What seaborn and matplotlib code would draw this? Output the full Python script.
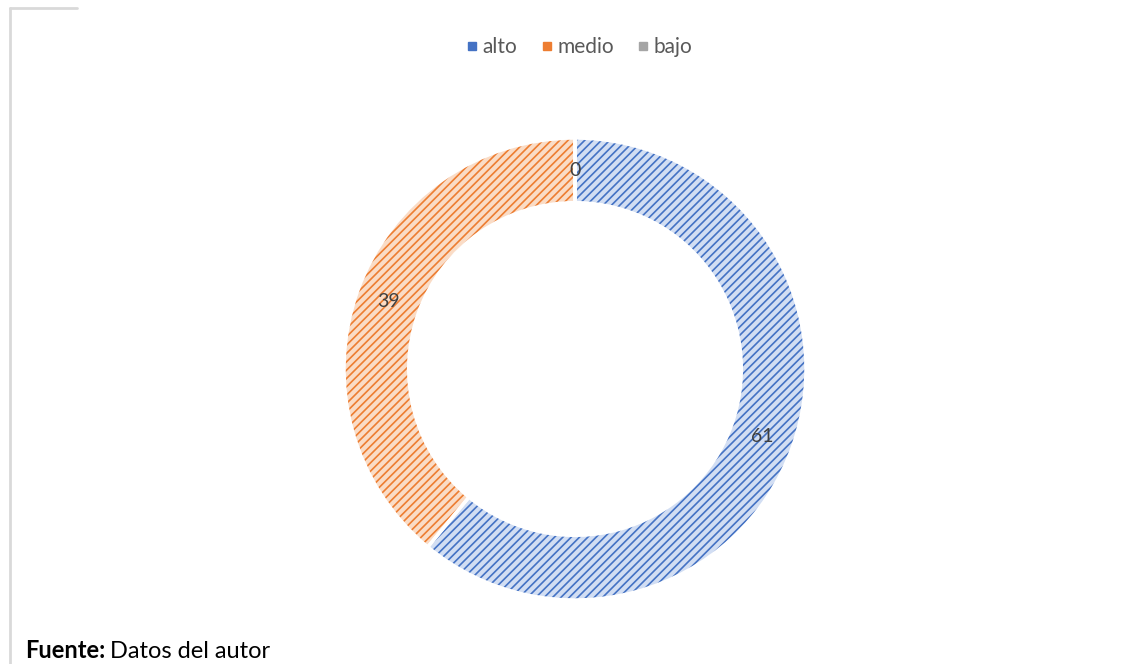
import matplotlib.pyplot as plt
import matplotlib.lines as mlines
import seaborn as sns

categorias = ['alto', 'medio', 'bajo']
valores = [61, 39, 0]
colores = ['#4472C4', '#ED7D31', '#A5A5A5']
rellenos = ['#D2DEF3', '#FADCC6', '#E2E2E2']

sns.set_theme(style="white")
plt.rcParams['font.family'] = ['Lato', 'DejaVu Sans']
plt.rcParams['hatch.linewidth'] = 1.2

fig = plt.figure(figsize=(11.31, 6.64), dpi=100)
W, H = 1131, 664
cx, cy, R = 575, 369, 231
ax = fig.add_axes([(cx - 250) / W, (H - cy - 250) / H, 500 / W, 500 / H])

total = sum(valores)
wedges, textos, autotextos = ax.pie(
    valores, colors=rellenos, startangle=90, counterclock=False,
    wedgeprops=dict(width=0.28, linewidth=0),
    autopct=lambda p: f"{p * total / 100:.0f}", pctdistance=0.86,
    textprops=dict(color='#404040', fontsize=14))
for w, c in zip(wedges, colores):
    w.set_hatch('////')
    w.set_edgecolor(c)
    w.set_linewidth(0)

# separadores blancos entre segmentos
ax.pie(valores, colors=['none'] * 3, startangle=90, counterclock=False,
       wedgeprops=dict(width=0.28, linewidth=2.5, edgecolor='white', fill=False))
ax.set_xlim(-250 / R, 250 / R)
ax.set_ylim(-250 / R, 250 / R)
ax.set_aspect('equal')
ax.axis('off')

# leyenda
handles = [mlines.Line2D([], [], marker='s', linestyle='none', markersize=6,
                         color=c, label=l) for c, l in zip(colores, categorias)]
fig.legend(handles=handles, loc='center', bbox_to_anchor=(cx / W, 1 - 47 / H),
           ncol=3, frameon=False, fontsize=15, handletextpad=-0.2,
           columnspacing=0.7, labelcolor='#595959', handlelength=1.4)

# marco
fig.add_artist(mlines.Line2D([10 / W, 10 / W], [0, 1 - 8 / H], color='#D9D9D9', lw=2))
fig.add_artist(mlines.Line2D([10 / W, 77 / W], [1 - 8 / H, 1 - 8 / H], color='#D9D9D9', lw=2))

# fuente
t = fig.text(25 / W, 2 / H, 'Fuente:', fontsize=17, fontweight='bold', color='black', va='bottom')
fig.canvas.draw()
bb = t.get_window_extent()
fig.text((bb.x1 + 5) / W, 2 / H, 'Datos del autor', fontsize=17, color='black', va='bottom')

fig.savefig('out.png', dpi=100)
